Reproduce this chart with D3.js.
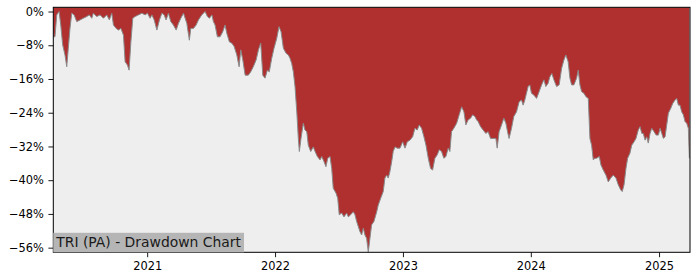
<!DOCTYPE html>
<html>
<head>
<meta charset="utf-8">
<script src="https://cdn.jsdelivr.net/npm/d3@7"></script>
<style>
  html, body { margin: 0; padding: 0; background: #fff; }
  svg { display: block; font-family: "DejaVu Sans", sans-serif; }
</style>
</head>
<body>
<div id="chart"></div>
<script>
// decimal years and drawdown (%)
const years = [
  2020.268, 2020.281, 2020.295, 2020.313, 2020.326, 2020.341, 2020.359, 2020.373, 2020.385, 2020.398,
  2020.412, 2020.430, 2020.451, 2020.477, 2020.502, 2020.529, 2020.549, 2020.568, 2020.580, 2020.607,
  2020.633, 2020.659, 2020.685, 2020.705, 2020.724, 2020.737, 2020.758, 2020.776, 2020.795, 2020.815,
  2020.828, 2020.846, 2020.859, 2020.873, 2020.888, 2020.906, 2020.932, 2020.959, 2020.984, 2021.002,
  2021.023, 2021.037, 2021.055, 2021.076, 2021.096, 2021.115, 2021.133, 2021.148, 2021.166, 2021.185,
  2021.205, 2021.227, 2021.245, 2021.263, 2021.284, 2021.310, 2021.330, 2021.341, 2021.362, 2021.383,
  2021.401, 2021.427, 2021.453, 2021.471, 2021.487, 2021.506, 2021.518, 2021.531, 2021.549, 2021.570,
  2021.591, 2021.609, 2021.623, 2021.643, 2021.662, 2021.680, 2021.701, 2021.719, 2021.732, 2021.748,
  2021.766, 2021.791, 2021.810, 2021.830, 2021.852, 2021.870, 2021.888, 2021.904, 2021.922, 2021.940,
  2021.955, 2021.974, 2021.992, 2022.013, 2022.031, 2022.047, 2022.065, 2022.086, 2022.104, 2022.117,
  2022.130, 2022.143, 2022.156, 2022.170, 2022.182, 2022.190, 2022.203, 2022.221, 2022.234, 2022.248,
  2022.260, 2022.279, 2022.299, 2022.313, 2022.331, 2022.352, 2022.365, 2022.383, 2022.398, 2022.412,
  2022.430, 2022.443, 2022.455, 2022.477, 2022.490, 2022.502, 2022.521, 2022.539, 2022.560, 2022.573,
  2022.591, 2022.612, 2022.625, 2022.638, 2022.664, 2022.677, 2022.690, 2022.703, 2022.716, 2022.729,
  2022.742, 2022.755, 2022.773, 2022.795, 2022.807, 2022.826, 2022.846, 2022.859, 2022.873, 2022.885,
  2022.898, 2022.912, 2022.924, 2022.938, 2022.955, 2022.977, 2022.998, 2023.016, 2023.034, 2023.055,
  2023.076, 2023.094, 2023.112, 2023.127, 2023.146, 2023.164, 2023.180, 2023.198, 2023.216, 2023.232,
  2023.250, 2023.268, 2023.284, 2023.302, 2023.320, 2023.336, 2023.354, 2023.367, 2023.380, 2023.398,
  2023.420, 2023.440, 2023.459, 2023.477, 2023.492, 2023.510, 2023.529, 2023.545, 2023.563, 2023.576,
  2023.588, 2023.607, 2023.627, 2023.648, 2023.666, 2023.685, 2023.706, 2023.727, 2023.737, 2023.752,
  2023.771, 2023.789, 2023.805, 2023.818, 2023.830, 2023.849, 2023.867, 2023.888, 2023.909, 2023.927,
  2023.940, 2023.953, 2023.966, 2023.979, 2023.992, 2024.005, 2024.023, 2024.045, 2024.065, 2024.084,
  2024.102, 2024.117, 2024.135, 2024.148, 2024.164, 2024.180, 2024.201, 2024.221, 2024.240, 2024.258,
  2024.273, 2024.291, 2024.305, 2024.318, 2024.336, 2024.357, 2024.370, 2024.383, 2024.396, 2024.414,
  2024.430, 2024.448, 2024.461, 2024.474, 2024.487, 2024.500, 2024.513, 2024.534, 2024.547, 2024.565,
  2024.586, 2024.604, 2024.623, 2024.643, 2024.664, 2024.682, 2024.701, 2024.713, 2024.727, 2024.742,
  2024.755, 2024.773, 2024.787, 2024.805, 2024.820, 2024.838, 2024.852, 2024.865, 2024.877, 2024.891,
  2024.904, 2024.916, 2024.930, 2024.943, 2024.961, 2024.977, 2024.995, 2025.008, 2025.021, 2025.034,
  2025.047, 2025.060, 2025.073, 2025.091, 2025.107, 2025.125, 2025.138, 2025.151, 2025.164, 2025.177,
  2025.190, 2025.203, 2025.216, 2025.229, 2025.237
];

const drawdown = [
  -6.0, -6.0, -0.8, 0.0, -3.2, -7.9, -10.3, -13.1, -8.7, -4.0,
  -0.4, -0.8, -2.4, -2.0, -1.6, -1.2, -0.8, -1.6, -0.4, -1.2,
  -0.8, -1.6, -0.8, -2.0, -0.4, -3.2, -4.0, -4.4, -4.0, -5.6,
  -11.9, -12.7, -13.9, -7.2, -1.6, -1.2, -0.8, -0.4, -0.8, -0.4,
  -1.6, -0.8, -2.0, -4.4, -2.0, -0.4, -0.8, -2.0, -0.4, -2.4,
  -3.2, -4.4, -2.8, -1.6, -0.4, -2.8, -6.8, -4.0, -4.0, -3.2,
  -2.0, -0.8, 0.0, -1.2, -1.6, -0.8, -2.4, -3.2, -6.0, -6.0,
  -4.8, -3.2, -5.2, -7.2, -7.5, -8.3, -10.3, -13.1, -9.1, -11.5,
  -15.1, -15.1, -14.3, -13.1, -11.5, -9.1, -7.5, -15.1, -15.8, -13.9,
  -14.3, -11.1, -8.7, -6.4, -3.6, -4.8, -8.7, -9.9, -10.3, -11.1,
  -12.3, -14.3, -17.8, -23.8, -30.1, -33.2, -30.1, -26.5, -28.1, -28.5,
  -31.7, -33.2, -32.1, -33.2, -34.4, -35.2, -34.4, -35.6, -36.8, -34.8,
  -34.4, -37.2, -41.9, -43.1, -44.3, -48.2, -47.8, -48.7, -47.8, -48.7,
  -48.2, -47.5, -48.2, -49.8, -52.2, -53.0, -51.4, -53.0, -53.8, -57.0,
  -53.8, -50.6, -49.8, -47.5, -45.9, -44.3, -42.7, -39.5, -38.8, -39.5,
  -38.0, -35.6, -33.2, -32.1, -32.4, -32.4, -30.9, -32.4, -30.9, -30.5,
  -29.7, -27.7, -28.1, -26.9, -27.7, -29.7, -31.7, -34.8, -37.2, -37.6,
  -34.8, -34.0, -32.8, -33.2, -34.8, -34.4, -32.4, -33.2, -28.5, -27.7,
  -26.5, -24.5, -22.6, -23.8, -26.9, -25.7, -25.3, -24.5, -24.9, -25.7,
  -26.1, -27.3, -28.1, -28.9, -28.5, -30.1, -30.1, -30.1, -32.4, -28.5,
  -26.9, -25.3, -26.5, -28.5, -30.1, -27.7, -24.9, -23.8, -21.4, -21.0,
  -22.2, -21.0, -19.4, -17.8, -17.4, -19.4, -19.8, -20.6, -19.0, -17.4,
  -16.2, -17.8, -17.0, -15.5, -14.7, -16.2, -17.8, -17.4, -13.5, -11.5,
  -10.3, -11.9, -15.8, -17.4, -17.4, -15.8, -13.9, -17.4, -19.0, -19.4,
  -20.2, -20.6, -30.1, -31.7, -35.2, -34.8, -34.8, -34.4, -36.4, -37.6,
  -38.8, -40.4, -39.5, -38.8, -39.5, -41.1, -42.3, -42.7, -41.1, -37.2,
  -34.8, -33.6, -31.7, -30.9, -30.1, -28.1, -27.3, -28.9, -28.9, -30.5,
  -29.7, -31.2, -28.9, -27.7, -28.5, -29.3, -29.3, -27.7, -28.9, -30.1,
  -29.7, -26.9, -24.1, -23.0, -21.8, -21.0, -20.6, -22.2, -22.2, -23.8,
  -24.5, -26.1, -26.5, -27.7, -34.8
];

const xStart = 2020.268;
const xEnd = 2025.242;
const tickYears = [2021, 2022, 2023, 2024, 2025];
const yTicks = [0, -8, -16, -24, -32, -40, -48, -56];
const yMin = -57.1;
const yMax = 1.0;
const title = "TRI (PA) - Drawdown Chart";

function toDate(dy) {
  const y = Math.floor(dy);
  const start = Date.UTC(y, 0, 1);
  const end = Date.UTC(y + 1, 0, 1);
  return new Date(start + (dy - y) * (end - start));
}

const data = years.map((yr, i) => ({ time: toDate(yr), value: drawdown[i] }));

const W = 700, H = 280;
const margin = { top: 7.3, right: 10, bottom: 27.7, left: 53.3 };
const width = W - margin.left - margin.right;
const height = H - margin.top - margin.bottom;

const svg = d3.select("#chart")
  .append("svg")
  .attr("width", W)
  .attr("height", H);

const g = svg.append("g")
  .attr("transform", `translate(${margin.left},${margin.top})`);

const x = d3.scaleUtc()
  .domain([toDate(xStart), toDate(xEnd)])
  .range([0, width]);

const y = d3.scaleLinear()
  .domain([yMin, yMax])
  .range([height, 0]);

g.append("rect")
  .attr("width", width)
  .attr("height", height)
  .attr("fill", "#eeeeee");

const clipId = "plot-clip";
g.append("defs").append("clipPath")
  .attr("id", clipId)
  .append("rect")
  .attr("width", width)
  .attr("height", height);

const layer = g.append("g").attr("clip-path", `url(#${clipId})`);

const area = d3.area()
  .x((d) => x(d.time))
  .y0(y(yMax))
  .y1((d) => y(d.value));

layer.append("path")
  .datum(data)
  .attr("fill", "#b03030")
  .attr("d", area);

layer.append("path")
  .datum(data)
  .attr("fill", "none")
  .attr("stroke", "#8a8a8a")
  .attr("stroke-width", 1)
  .attr("d", d3.line().x((d) => x(d.time)).y((d) => y(d.value)));

// axes
const fmtPct = (d) => (d < 0 ? "\u2212" + Math.abs(d) : d) + "%";

const yAxis = g.append("g")
  .call(d3.axisLeft(y).tickValues(yTicks).tickFormat(fmtPct).tickSize(4.9).tickPadding(4.5));

const xAxis = g.append("g")
  .attr("transform", `translate(0,${height})`)
  .call(d3.axisBottom(x)
    .tickValues(tickYears.map((t) => toDate(t)))
    .tickFormat(d3.utcFormat("%Y"))
    .tickSize(4.9)
    .tickPadding(4.5));

[xAxis, yAxis].forEach((ax) => {
  ax.select(".domain").remove();
  ax.selectAll(".tick line").attr("stroke", "#000").attr("stroke-width", 0.9);
  ax.selectAll(".tick text")
    .attr("fill", "#000")
    .style("font-size", "11.4px")
    .style("font-family", "'DejaVu Sans', sans-serif");
});

g.append("rect")
  .attr("width", width)
  .attr("height", height)
  .attr("fill", "none")
  .attr("stroke", "#000")
  .attr("stroke-width", 1);

// title label in the lower left corner
const label = g.append("g");
const labelText = label.append("text")
  .attr("x", 3)
  .attr("y", height - 5)
  .attr("fill", "#1a1a1a")
  .style("font-size", "13.9px")
  .text(title);

const bb = labelText.node().getBBox();
label.insert("rect", "text")
  .attr("x", 0)
  .attr("y", bb.y - 1.5)
  .attr("width", bb.x + bb.width + 2.5)
  .attr("height", height - (bb.y - 1.5))
  .attr("fill", "#b5b5b5");
</script>
</body>
</html>
